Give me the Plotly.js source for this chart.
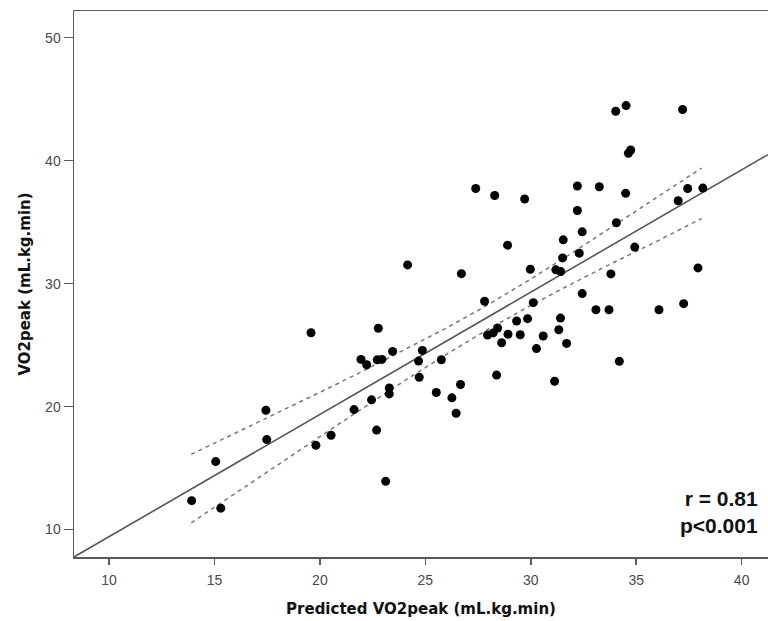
<!DOCTYPE html>
<html>
<head>
<meta charset="utf-8">
<script src="https://cdn.plot.ly/plotly-3.0.1.min.js"></script>
<style>html,body{margin:0;padding:0;background:#fff;}#chart{width:768px;height:621px;}</style>
</head>
<body>
<div id="chart"></div>
<script>
const predicted = [13.92,15.06,15.30,19.58,22.77,21.95,22.22,22.72,22.94,17.44,17.48,19.81,20.53,21.62,22.45,22.69,23.12,
  27.39,28.29,29.71,28.90,24.16,26.71,29.98,27.81,30.12,29.33,29.85,28.43,27.95,28.22,28.92,29.50,28.62,30.59,30.27,
  23.45,24.86,24.68,25.76,24.71,23.29,23.29,25.52,26.67,26.26,26.46,28.38,31.13,
  34.03,34.52,37.20,34.63,34.74,32.21,33.25,34.50,37.44,38.16,36.99,32.21,34.06,32.44,31.54,31.51,32.30,34.93,
  31.19,31.42,33.80,37.93,32.44,33.09,33.71,36.08,37.25,31.41,31.33,31.70,34.20];
const measured = [12.35,15.53,11.74,26.01,26.37,23.84,23.40,23.80,23.84,19.70,17.32,16.85,17.67,19.76,20.55,18.09,13.92,
  37.74,37.17,36.88,33.13,31.52,30.81,31.17,28.57,28.45,26.96,27.15,26.39,25.82,25.99,25.88,25.84,25.19,25.74,24.72,
  24.49,24.57,23.70,23.81,22.39,21.52,21.03,21.15,21.80,20.71,19.46,22.56,22.06,
  44.02,44.48,44.16,40.60,40.87,37.94,37.88,37.34,37.74,37.77,36.74,35.95,34.95,34.21,33.56,32.09,32.48,32.97,
  31.12,30.98,30.79,31.28,29.19,27.88,27.88,27.88,28.37,27.20,26.25,25.14,23.68];

// Regression line end points
const fitX = [8.34, 41.25];
const fitY = [7.77, 40.49];

// 95% confidence band (dashed curves)
const ciX     = [13.9, 16, 18, 20, 22, 24, 26, 28, 30, 32, 34, 36, 38.1];
const ciUpper = [16.12, 17.84, 19.49, 21.16, 22.85, 24.59, 26.39, 28.31, 30.37, 32.54, 34.78, 37.06, 39.40];
const ciLower = [10.55, 12.92, 15.25, 17.56, 19.85, 22.09, 24.25, 26.31, 28.23, 30.04, 31.78, 33.46, 35.30];

const xTicks = [10, 15, 20, 25, 30, 35, 40];
const yTicks = [10, 20, 30, 40, 50];

const axisColor = '#5a5a5a';
const tickFont = {family: 'Liberation Sans, Arial, sans-serif', size: 14, color: '#4a4a4a'};
const titleFont = {family: 'DejaVu Sans, Verdana, sans-serif', size: 15, color: '#111', weight: 'bold'};

const traces = [
  {x: ciX, y: ciUpper, mode: 'lines', line: {color: '#777', width: 1.5, dash: '4px,4px'}, hoverinfo: 'skip'},
  {x: ciX, y: ciLower, mode: 'lines', line: {color: '#777', width: 1.5, dash: '4px,4px'}, hoverinfo: 'skip'},
  {x: fitX, y: fitY, mode: 'lines', line: {color: '#555', width: 1.6}, hoverinfo: 'skip'},
  {x: predicted, y: measured, mode: 'markers', marker: {color: '#000', size: 9}}
];

const layout = {
  width: 768, height: 621,
  margin: {l: 74, r: 0, t: 11, b: 64},
  paper_bgcolor: '#fff', plot_bgcolor: '#fff',
  showlegend: false,
  xaxis: {
    range: [8.34, 41.25], tickvals: xTicks, ticktext: xTicks.map(String),
    showgrid: false, zeroline: false, showline: true, mirror: true,
    linecolor: axisColor, linewidth: 1.5,
    ticks: 'outside', ticklen: 6, tickwidth: 1.5, tickcolor: axisColor,
    tickfont: tickFont, ticklabelstandoff: 4,
    title: {text: 'Predicted VO2peak (mL.kg.min)', font: titleFont, standoff: 16}
  },
  yaxis: {
    range: [7.77, 52.17], tickvals: yTicks, ticktext: yTicks.map(String),
    showgrid: false, zeroline: false, showline: true, mirror: false,
    linecolor: axisColor, linewidth: 1.5,
    ticks: 'outside', ticklen: 9, tickwidth: 1.5, tickcolor: axisColor,
    tickfont: tickFont,
    title: {text: 'VO2peak (mL.kg.min)', font: titleFont, standoff: 11}
  },
  annotations: [{
    xref: 'paper', yref: 'paper', x: 0.9885, y: 0.082, xanchor: 'right', yanchor: 'middle',
    align: 'right', showarrow: false,
    text: 'r = 0.81<br>p<0.001',
    font: {family: 'Liberation Sans, Arial, sans-serif', size: 21, color: '#111', weight: 'bold'}
  }]
};

Plotly.newPlot('chart', traces, layout, {displayModeBar: false, staticPlot: true});
</script>
</body>
</html>
